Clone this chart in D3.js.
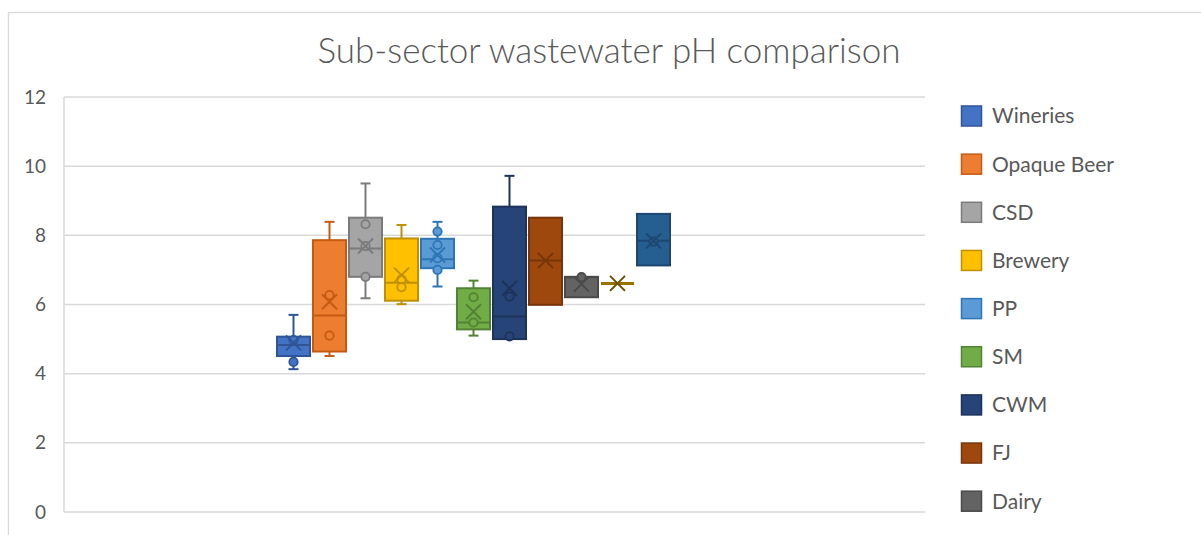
<!DOCTYPE html>
<html>
<head>
<meta charset="utf-8">
<script src="https://cdn.jsdelivr.net/npm/d3@7"></script>
<style>
  html, body { margin: 0; padding: 0; background: #fff; }
  svg { display: block; }
</style>
</head>
<body>
<svg id="chart" width="1201" height="535"></svg>
<script>
// ---- data ----
const title = "Sub-sector wastewater pH comparison";
const categories = ["Wineries","Opaque Beer","CSD","Brewery","PP","SM","CWM","FJ","Dairy","Series 10","Series 11"];
const legendCount = 9; // only the first nine entries fit in the legend
const fillColors = ["#4472C4","#ED7D31","#A5A5A5","#FFC000","#5B9BD5","#70AD47","#264478","#9E480E","#636363","#997300","#255E91"];
const lineColors = ["#2F5597","#C55A11","#7B7B7B","#BF9000","#2E75B6","#548235","#1D335A","#763609","#4A4A4A","#997300","#1C4770"];
const whiskerLow  = [4.13, 4.51, 6.18, 6.01, 6.52, 5.10, 5.00, 5.99, 6.21, 6.61, 7.13];
const q1          = [4.51, 4.64, 6.80, 6.11, 7.05, 5.28, 5.00, 5.99, 6.21, 6.61, 7.13];
const medians     = [4.83, 5.68, 7.62, 6.63, 7.31, 5.48, 5.65, 7.27, 6.79, 6.61, 7.84];
const q3          = [5.07, 7.86, 8.51, 7.91, 7.90, 6.47, 8.83, 8.51, 6.80, 6.61, 8.62];
const whiskerHigh = [5.70, 8.39, 9.50, 8.30, 8.39, 6.69, 9.72, 8.51, 6.80, 6.61, 8.62];
const means       = [4.89, 6.08, 7.69, 6.85, 7.43, 5.79, 6.47, 7.27, 6.59, 6.61, 7.84];
const points = [
  [4.34, 4.97],
  [6.27, 5.10],
  [8.32, 6.80, 7.69],
  [6.73, 6.50],
  [8.11, 7.72, 7.34, 7.00],
  [6.21, 5.48],
  [6.23, 5.08],
  [],
  [6.79],
  [],
  [7.82]
];
const yTicks = [0, 2, 4, 6, 8, 10, 12];

// ---- layout ----
const svg = d3.select("#chart");
const plot = { left: 64, right: 925, top: 97, bottom: 512 };
const textColor = "#595959";
const gridColor = "#D9D9D9";
const font = "Lato, 'Open Sans', sans-serif";

// chart frame
svg.append("rect")
  .attr("x", 8.5).attr("y", 12.5)
  .attr("width", 1200).attr("height", 540)
  .attr("fill", "#fff").attr("stroke", gridColor).attr("stroke-width", 1.3);

const y = d3.scaleLinear().domain([0, 12]).range([plot.bottom, plot.top]);
const x = d3.scaleBand().domain(categories).range([277, 670]).paddingInner(0.0833).paddingOuter(0);

// gridlines
svg.append("g").selectAll("line").data(yTicks).join("line")
  .attr("x1", plot.left).attr("x2", plot.right)
  .attr("y1", d => y(d)).attr("y2", d => y(d))
  .attr("stroke", gridColor).attr("stroke-width", 1.5);

// vertical axis line
svg.append("line")
  .attr("x1", plot.left).attr("x2", plot.left)
  .attr("y1", plot.top).attr("y2", plot.bottom)
  .attr("stroke", gridColor).attr("stroke-width", 1.5);

// y tick labels via axis
const yAxis = d3.axisLeft(y).tickValues(yTicks).tickSize(0).tickPadding(0);
const ag = svg.append("g").attr("transform", `translate(46,0)`).call(yAxis);
ag.select(".domain").remove();
ag.selectAll("text")
  .attr("fill", textColor)
  .style("font-family", font)
  .style("font-size", "19px");

// title
svg.append("text")
  .attr("x", 609).attr("y", 63)
  .attr("text-anchor", "middle")
  .attr("fill", textColor)
  .style("font-family", font)
  .style("font-weight", 300)
  .style("font-size", "35px")
  .text(title);

// boxes
const g = svg.append("g");
categories.forEach((c, i) => {
  const x0 = x(c), bw = x.bandwidth(), cx = x0 + bw / 2;
  const col = fillColors[i], lc = lineColors[i];
  const sg = g.append("g");
  const capW = 10;
  // whiskers
  if (whiskerHigh[i] > q3[i]) {
    sg.append("line").attr("x1", cx).attr("x2", cx).attr("y1", y(q3[i])).attr("y2", y(whiskerHigh[i])).attr("stroke", lc).attr("stroke-width", 2);
    sg.append("line").attr("x1", cx - capW/2).attr("x2", cx + capW/2).attr("y1", y(whiskerHigh[i])).attr("y2", y(whiskerHigh[i])).attr("stroke", lc).attr("stroke-width", 2);
  }
  if (whiskerLow[i] < q1[i]) {
    sg.append("line").attr("x1", cx).attr("x2", cx).attr("y1", y(q1[i])).attr("y2", y(whiskerLow[i])).attr("stroke", lc).attr("stroke-width", 2);
    sg.append("line").attr("x1", cx - capW/2).attr("x2", cx + capW/2).attr("y1", y(whiskerLow[i])).attr("y2", y(whiskerLow[i])).attr("stroke", lc).attr("stroke-width", 2);
  }
  // box
  const h = y(q1[i]) - y(q3[i]);
  if (h > 0.5) {
    sg.append("rect")
      .attr("x", x0).attr("y", y(q3[i]))
      .attr("width", bw).attr("height", h)
      .attr("fill", col).attr("stroke", lc).attr("stroke-width", 2);
    sg.append("line").attr("x1", x0).attr("x2", x0 + bw)
      .attr("y1", y(medians[i])).attr("y2", y(medians[i]))
      .attr("stroke", lc).attr("stroke-width", 2);
  } else {
    sg.append("line").attr("x1", x0).attr("x2", x0 + bw)
      .attr("y1", y(medians[i])).attr("y2", y(medians[i]))
      .attr("stroke", col).attr("stroke-width", 3);
  }
  // points
  sg.selectAll("circle").data(points[i]).join("circle")
    .attr("cx", cx).attr("cy", d => y(d)).attr("r", 4.2)
    .attr("fill", col).attr("stroke", lc).attr("stroke-width", 1.8);
  // mean marker X
  const m = y(means[i]), s = 7.5;
  const mc = i === 9 ? "#6b5000" : lc;
  sg.append("path")
    .attr("d", `M${cx - s},${m - s}L${cx + s},${m + s}M${cx - s},${m + s}L${cx + s},${m - s}`)
    .attr("stroke", mc).attr("stroke-width", 2).attr("fill", "none");
});

// legend
const lg = svg.append("g");
categories.slice(0, legendCount).forEach((c, i) => {
  const cy = 116 + i * 48.15;
  lg.append("rect")
    .attr("x", 961.5).attr("y", cy - 10)
    .attr("width", 20).attr("height", 20)
    .attr("fill", fillColors[i]).attr("stroke", lineColors[i]).attr("stroke-width", 1.5);
  lg.append("text")
    .attr("x", 992).attr("y", cy)
    .attr("dy", "0.35em")
    .attr("fill", textColor)
    .style("font-family", font)
    .style("font-size", "21px")
    .text(c);
});
</script>
</body>
</html>
